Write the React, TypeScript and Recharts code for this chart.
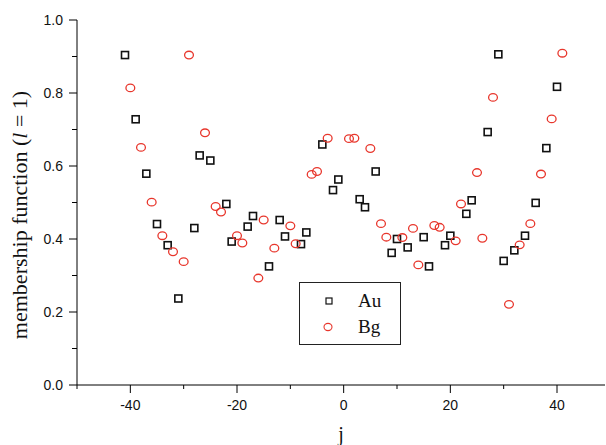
import React from "react";
import { ScatterChart, Scatter, XAxis, YAxis, Legend } from "recharts";

// Au series (squares)
const auJ = [
  -41, -39, -37, -35, -33, -31, -28, -27, -25, -22, -21, -18, -17, -14, -12, -11, -8, -7, -4, -2, -1,
  3, 4, 6, 9, 10, 12, 15, 16, 19, 20, 23, 24, 27, 29, 30, 32, 34, 36, 38, 40,
];
const auValues = [
  0.904, 0.728, 0.579, 0.441, 0.383, 0.237, 0.43, 0.629, 0.615, 0.496, 0.393, 0.434, 0.463, 0.325,
  0.452, 0.407, 0.386, 0.418, 0.659, 0.534, 0.563, 0.509, 0.487, 0.585, 0.362, 0.4, 0.377, 0.405,
  0.325, 0.383, 0.409, 0.469, 0.506, 0.693, 0.906, 0.34, 0.369, 0.409, 0.499, 0.649, 0.817,
];

// Bg series (circles)
const bgJ = [
  -40, -38, -36, -34, -32, -30, -29, -26, -24, -23, -20, -19, -16, -15, -13, -10, -9, -6, -5, -3, 1,
  2, 5, 7, 8, 11, 13, 14, 17, 18, 21, 22, 25, 26, 28, 31, 33, 35, 37, 39, 41,
];
const bgValues = [
  0.814, 0.651, 0.501, 0.409, 0.365, 0.338, 0.904, 0.691, 0.489, 0.474, 0.409, 0.389, 0.293, 0.452,
  0.375, 0.436, 0.387, 0.577, 0.585, 0.676, 0.675, 0.676, 0.648, 0.442, 0.405, 0.404, 0.429, 0.329,
  0.437, 0.432, 0.395, 0.496, 0.582, 0.402, 0.788, 0.221, 0.384, 0.442, 0.578, 0.729, 0.909,
];

const xTicks = [-50, -40, -30, -20, -10, 0, 10, 20, 30, 40];
const yTicks = [0, 0.1, 0.2, 0.3, 0.4, 0.5, 0.6, 0.7, 0.8, 0.9, 1.0];

const RED = "#e8362c";
const SANS = "'Liberation Sans', Arial, sans-serif";
const SERIF = "'Liberation Serif', 'Times New Roman', serif";

const auData = auJ.map((j, i) => ({ j, v: auValues[i] }));
const bgData = bgJ.map((j, i) => ({ j, v: bgValues[i] }));

const Square = (props: any) => {
  const { cx, cy } = props;
  return <rect x={cx - 3.5} y={cy - 3.5} width={7} height={7} fill="none" stroke="#111" strokeWidth={1.6} />;
};

const Ring = (props: any) => {
  const { cx, cy } = props;
  return <ellipse cx={cx} cy={cy} rx={4.4} ry={3.8} fill="none" stroke={RED} strokeWidth={1.3} />;
};

const XTick = (props: any) => {
  const { x, y, payload } = props;
  const major = payload.value % 20 === 0;
  return (
    <g>
      <line x1={x} x2={x} y1={y} y2={y + (major ? 8 : 4)} stroke="#000" />
      {major && (
        <text x={x} y={y + 25} textAnchor="middle" fontSize={14} fontFamily={SANS} fill="#111">
          {payload.value}
        </text>
      )}
    </g>
  );
};

const YTick = (props: any) => {
  const { x, y, payload } = props;
  const major = Math.round(payload.value * 10) % 2 === 0;
  return (
    <g>
      <line x1={x} x2={x - (major ? 8 : 5)} y1={y} y2={y} stroke="#000" />
      {major && (
        <text x={x - 14} y={y + 5} textAnchor="end" fontSize={14} fontFamily={SANS} fill="#111">
          {payload.value.toFixed(1)}
        </text>
      )}
    </g>
  );
};

const LegendBox = () => (
  <div
    style={{
      width: 100,
      height: 61,
      border: "1px solid #222",
      background: "#fff",
      fontFamily: SERIF,
      fontSize: 19,
      color: "#111",
    }}
  >
    <div style={{ display: "flex", alignItems: "center", height: 26, marginTop: 5 }}>
      <svg width={58} height={20}>
        <rect x={26} y={7} width={6} height={6} fill="none" stroke="#111" strokeWidth={1.2} />
      </svg>
      <span>Au</span>
    </div>
    <div style={{ display: "flex", alignItems: "center", height: 26 }}>
      <svg width={58} height={20}>
        <ellipse cx={28} cy={10} rx={4} ry={3.6} fill="none" stroke={RED} strokeWidth={1.1} />
      </svg>
      <span>Bg</span>
    </div>
  </div>
);

export default function App() {
  return (
    <div style={{ position: "absolute", left: 0, top: 0, width: 606, height: 445, background: "#fff" }}>
      <ScatterChart width={606} height={445} margin={{ top: 20, right: 1, bottom: 0, left: 0 }}>
        <XAxis
          type="number"
          dataKey="j"
          domain={[-50, 49]}
          ticks={xTicks}
          interval={0}
          allowDataOverflow
          height={60}
          tickSize={0}
          tickMargin={0}
          tickLine={false}
          tick={<XTick />}
          axisLine={{ stroke: "#000" }}
          label={{
            value: "j",
            position: "insideBottom",
            offset: 4,
            fontSize: 20,
            fontFamily: SERIF,
            fill: "#111",
          }}
        />
        <YAxis
          type="number"
          dataKey="v"
          domain={[0, 1]}
          ticks={yTicks}
          interval={0}
          width={77}
          tickSize={0}
          tickMargin={0}
          tickLine={false}
          tick={<YTick />}
          axisLine={{ stroke: "#000" }}
          label={{
            content: () => (
              <text
                transform="translate(27,215) rotate(-90)"
                textAnchor="middle"
                fontSize={22}
                fontFamily={SERIF}
                fill="#111"
              >
                membership function (<tspan fontStyle="italic">l</tspan> = 1)
              </text>
            ),
          }}
        />
        <Legend
          layout="vertical"
          align="center"
          verticalAlign="middle"
          content={<LegendBox />}
          wrapperStyle={{ left: 299, top: 282, width: 102, height: 63 }}
        />
        <Scatter name="Au" data={auData} shape={<Square />} isAnimationActive={false} />
        <Scatter name="Bg" data={bgData} shape={<Ring />} isAnimationActive={false} />
      </ScatterChart>
    </div>
  );
}
